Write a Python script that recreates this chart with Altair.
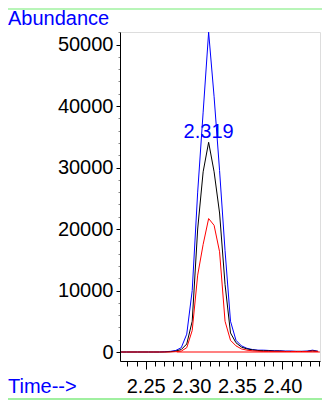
import altair as alt
import pandas as pd

# ---- data ----
times = [2.223, 2.229, 2.235, 2.241, 2.247, 2.253, 2.259, 2.265, 2.271, 2.277,
         2.283, 2.289, 2.295, 2.301, 2.307, 2.313, 2.319, 2.325, 2.331, 2.337,
         2.343, 2.349, 2.355, 2.361, 2.367, 2.373, 2.379, 2.385, 2.391, 2.397,
         2.403, 2.409, 2.415, 2.421, 2.427, 2.433, 2.439]
blue_vals = [0, 0, 0, 0, 0, 0, 0, 0, 50, 100,
             250, 700, 2900, 10000, 26000, 39000, 52000, 41500, 29500, 16500,
             5000, 1900, 1000, 600, 400, 300, 300, 250, 200, 200,
             150, 150, 100, 100, 150, 300, 100]
black_vals = [0, 0, 0, 0, 0, 0, 0, 0, 0, 50,
              150, 400, 1300, 5000, 20000, 29300, 34100, 29300, 22600, 11000,
              3100, 1500, 800, 500, 350, 250, 200, 200, 150, 150,
              100, 100, 100, 100, 100, 200, 100]
red_vals = [0, 0, 0, 0, 0, 0, 0, 0, 0, 0,
            50, 150, 700, 3500, 12500, 17500, 21700, 20600, 16300, 5000,
            1900, 1000, 500, 300, 200, 150, 100, 100, 100, 100,
            80, 80, 80, 80, 80, 150, 80]
baseline_times = [2.284, 2.441]
baseline_vals = [0, 0]
peak_time = [2.319]
peak_value = [34100]
peak_label = ["2.319"]

y_major = [0, 10000, 20000, 30000, 40000, 50000]
y_minor = [0, 2000, 4000, 6000, 8000, 10000, 12000, 14000, 16000, 18000, 20000,
           22000, 24000, 26000, 28000, 30000, 32000, 34000, 36000, 38000, 40000,
           42000, 44000, 46000, 48000, 50000, 52000]
x_major = [2.25, 2.30, 2.35, 2.40]
x_minor = [2.23, 2.24, 2.25, 2.26, 2.27, 2.28, 2.29, 2.30, 2.31, 2.32, 2.33,
           2.34, 2.35, 2.36, 2.37, 2.38, 2.39, 2.40, 2.41, 2.42, 2.43, 2.44]

FONT = "Liberation Sans"
xs = alt.Scale(domain=[2.22182, 2.44112], nice=False, zero=False)
ys = alt.Scale(domain=[-1463, 52033], nice=False, zero=False)

df_blue = pd.DataFrame({"t": times, "v": blue_vals})
df_black = pd.DataFrame({"t": times, "v": black_vals})
df_red = pd.DataFrame({"t": times, "v": red_vals})
df_base = pd.DataFrame({"t": baseline_times, "v": baseline_vals})
df_peak = pd.DataFrame({"t": peak_time, "v": peak_value, "lab": peak_label})

x_axis_major = alt.Axis(values=x_major, format=".2f", orient="bottom", title=None,
                        tickSize=8, tickColor="black", domainColor="black",
                        labelFontSize=20, labelFont=FONT, labelColor="black",
                        labelPadding=7, grid=False, labelFlush=False, labelOverlap=False)
y_axis_major = alt.Axis(values=y_major, format="d", orient="left", title=None,
                        tickSize=4, tickColor="black", domainColor="black",
                        labelFontSize=20, labelFont=FONT, labelColor="black",
                        labelPadding=3, grid=False, labelFlush=False, labelOverlap=False)
x_axis_minor = alt.Axis(values=x_minor, orient="bottom", title=None, labels=False,
                        domain=False, tickSize=5, tickColor="black", grid=False)
y_axis_minor = alt.Axis(values=y_minor, orient="left", title=None, labels=False,
                        domain=False, tickSize=2, tickColor="#888888", grid=False)

base = alt.Chart(df_base).mark_line(color="#ff8080", strokeWidth=2).encode(
    x=alt.X("t:Q", scale=xs, axis=x_axis_minor),
    y=alt.Y("v:Q", scale=ys, axis=y_axis_minor),
)
blue = alt.Chart(df_blue).mark_line(color="#0000ff", strokeWidth=1).encode(
    x=alt.X("t:Q", scale=xs, axis=x_axis_major),
    y=alt.Y("v:Q", scale=ys, axis=y_axis_major),
)
black = alt.Chart(df_black).mark_line(color="#000000", strokeWidth=1).encode(
    x=alt.X("t:Q", scale=xs, axis=None),
    y=alt.Y("v:Q", scale=ys, axis=None),
)
red = alt.Chart(df_red).mark_line(color="#ff0000", strokeWidth=1).encode(
    x=alt.X("t:Q", scale=xs, axis=None),
    y=alt.Y("v:Q", scale=ys, axis=None),
)
peak = alt.Chart(df_peak).mark_text(color="#0000ff", fontSize=20, font=FONT,
                                    align="center", baseline="alphabetic", dy=-4).encode(
    x=alt.X("t:Q", scale=xs, axis=None),
    y=alt.Y("v:Q", scale=ys, axis=None),
    text="lab:N",
)

labels_df = pd.DataFrame({"lab": ["Abundance"]})
abund = alt.Chart(labels_df).mark_text(color="#0000ff", fontSize=20, font=FONT,
                                       align="left", baseline="alphabetic").encode(
    x=alt.value(-112), y=alt.value(-7), text="lab:N")
time_df = pd.DataFrame({"lab": ["Time-->"]})
timel = alt.Chart(time_df).mark_text(color="#0000ff", fontSize=20, font=FONT,
                                     align="left", baseline="alphabetic").encode(
    x=alt.value(-112), y=alt.value(361), text="lab:N")

top_line = alt.Chart(labels_df).mark_rule(color="#b8f5b8", strokeWidth=2).encode(
    x=alt.value(-112), x2=alt.value(212), y=alt.value(-23))
bot_line = alt.Chart(labels_df).mark_rule(color="#a0f0a0", strokeWidth=2).encode(
    x=alt.value(-112), x2=alt.value(212), y=alt.value(367))

chart = alt.layer(base, blue, black, red, peak, abund, timel, top_line, bot_line).resolve_axis(
    x="independent", y="independent"
).properties(
    width=200, height=329,
    autosize=alt.AutoSizeParams(type="none"),
    padding={"left": 112, "top": 24, "right": 2, "bottom": 41},
).configure_view(stroke=None).configure(background="white")

chart.save("out.html", embed_options={"renderer": "svg", "actions": False})
